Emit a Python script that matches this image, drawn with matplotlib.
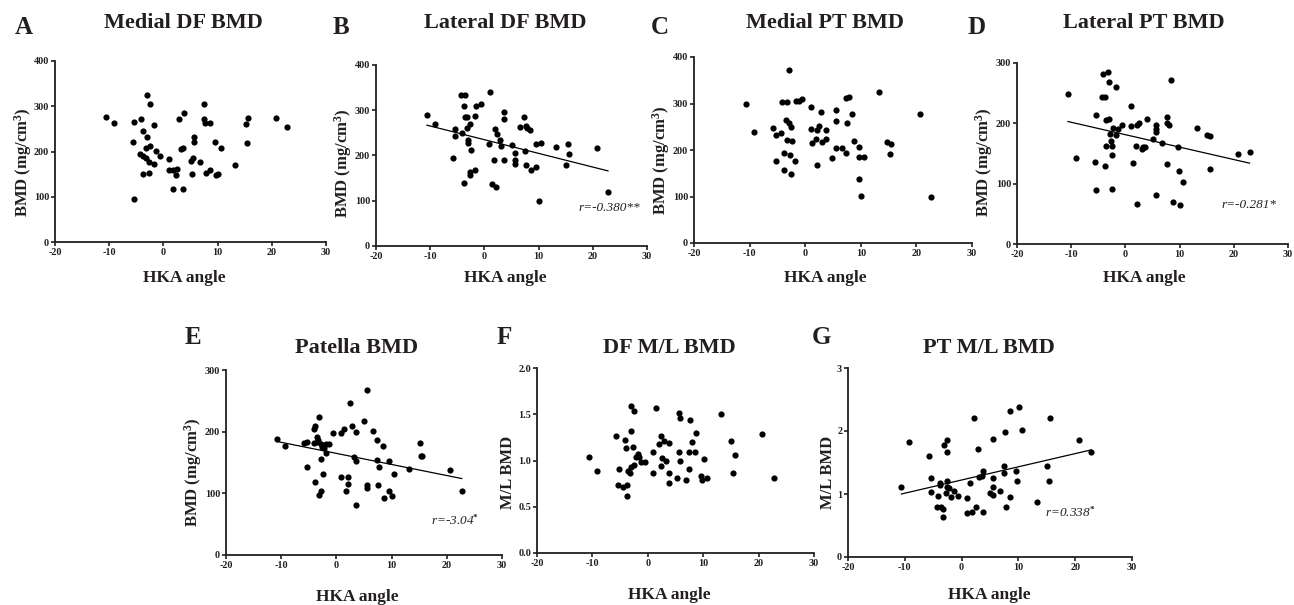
import matplotlib

matplotlib.use("Agg")
import matplotlib.pyplot as plt

plt.rcParams["font.family"] = ["Liberation Serif", "DejaVu Serif"]
plt.rcParams["mathtext.fontset"] = "custom"
plt.rcParams["mathtext.rm"] = "Liberation Serif:bold"
plt.rcParams["mathtext.bf"] = "Liberation Serif:bold"
plt.rcParams["mathtext.it"] = "Liberation Serif:italic"
plt.rcParams["axes.unicode_minus"] = False

W, H = 1294, 605
INK = "#231f20"

# --- data (HKA angle vs. BMD) ---
hka_a = [-10.6, -9.2, -3.0, -2.5, -5.4, -4.1, -1.7, -5.7, -3.7, -3.1, -3.3, -2.4, -1.4, -0.6,
         -4.3, -3.7, -3.3, -2.6, -1.8, -2.6, -3.8, -5.4, 1.0, 1.0, 1.7, 2.3, 2.5, 1.8, 3.6, 2.9,
         3.8, 3.3, 3.7, 5.2, 5.4, 5.6, 5.7, 5.1, 6.8, 7.4, 7.4, 7.7, 8.6, 7.9, 8.6, 9.5, 10.6,
         9.7, 10.1, 13.2, 15.2, 15.6, 15.4, 20.7, 22.8]
bmd_a = [277, 262, 325, 306, 266, 272, 258, 220, 246, 232, 208, 213, 201, 191,
         194, 190, 185, 177, 173, 153, 150, 94, 184, 160, 159, 148, 162, 117, 117, 272,
         286, 205, 207, 151, 186, 221, 232, 179, 177, 306, 271, 262, 262, 153, 159, 220, 208,
         148, 151, 170, 261, 273, 218, 275, 255]

hka_b = [-10.6, -9.2, -4.4, -3.6, -3.8, -3.6, -3.2, -1.5, -0.6, 1.0, -1.8, -5.4, -5.4, -4.1,
         -3.2, -2.7, -3.0, -3.1, -2.4, -5.8, -3.8, -2.7, -2.6, -1.8, 0.9, 2.0, 2.3, 2.8, 3.1,
         3.6, 3.6, 3.6, 1.7, 1.4, 2.2, 5.0, 5.6, 5.6, 5.6, 6.6, 7.3, 7.6, 7.9, 8.4, 7.4, 7.6,
         8.6, 9.6, 9.6, 10.5, 10.0, 13.2, 15.4, 15.6, 15.1, 20.7, 22.8]
bmd_b = [289, 270, 334, 334, 309, 286, 284, 309, 314, 341, 287, 258, 243, 250,
         260, 270, 234, 228, 212, 195, 140, 163, 157, 169, 225, 259, 247, 234, 220,
         297, 281, 189, 189, 138, 131, 223, 206, 190, 181, 262, 286, 265, 260, 256, 211, 180,
         169, 174, 225, 227, 99, 218, 225, 203, 180, 216, 120]
fit_b_x = [-10.6, 22.8]
fit_b_y = [267, 166]

hka_c = [-10.6, -9.2, -5.8, -5.3, -5.3, -4.4, -4.1, -3.8, -3.8, -3.4, -3.2, -3.2, -3.0, -2.9,
         -2.8, -2.6, -2.6, -2.4, -1.9, -1.7, -1.1, -0.6, 1.0, 1.0, 1.3, 1.9, 2.2, 2.5, 2.2,
         2.8, 3.1, 3.7, 3.7, 4.9, 5.5, 5.6, 5.6, 6.7, 7.3, 7.6, 7.3, 7.9, 8.4, 8.7, 9.6, 9.7,
         10.6, 9.7, 10.0, 13.2, 14.8, 15.4, 15.3, 20.7, 22.7]
bmd_c = [300, 239, 248, 233, 177, 237, 304, 193, 158, 265, 304, 222, 371, 258,
         189, 148, 250, 220, 176, 306, 305, 309, 292, 245, 216, 223, 242, 252, 168,
         282, 217, 223, 243, 182, 285, 263, 205, 205, 193, 258, 312, 313, 278, 220, 206, 184,
         184, 137, 101, 324, 218, 213, 192, 278, 98]

hka_d = [-10.6, -9.1, -5.4, -5.7, -5.4, -4.4, -3.7, -4.1, -3.2, -3.1, -1.8, -3.7, -3.5, -3.5,
         -3.0, -2.9, -2.6, -2.4, -2.5, -2.4, -2.3, -1.7, -1.3, -0.6, 1.0, 1.1, 1.4, 2.0, 2.2,
         2.6, 2.2, 3.0, 3.3, 3.7, 3.9, 5.1, 5.7, 5.7, 5.7, 5.7, 6.8, 7.6, 7.6, 8.1, 7.7, 8.5,
         8.8, 9.7, 9.8, 10.1, 10.6, 13.3, 15.1, 15.6, 15.7, 20.8, 22.9]
bmd_d = [249, 143, 90, 136, 213, 243, 243, 281, 285, 268, 261, 130, 162, 205,
         208, 182, 170, 163, 147, 91, 192, 181, 190, 197, 228, 195, 135, 162, 198,
         201, 67, 158, 161, 161, 207, 174, 197, 190, 186, 82, 167, 210, 200, 197, 132, 271,
         70, 160, 121, 64, 102, 193, 180, 179, 124, 149, 152]
fit_d_x = [-10.6, 22.9]
fit_d_y = [203, 134]

hka_e = [-10.7, -9.3, -5.9, -5.4, -5.4, -3.9, -4.1, -3.8, -3.2, -3.6, -3.6, -3.3, -4.1, -2.7,
         -2.6, -2.3, -1.9, -1.8, -1.3, -2.8, -2.5, -2.7, -3.1, -0.7, 0.9, 1.3, 0.9, 2.1, 2.1,
         1.8, 2.4, 2.8, 3.1, 3.6, 3.6, 3.6, 5.0, 5.5, 5.5, 5.5, 6.6, 7.3, 7.3, 7.7, 7.6, 8.4,
         8.6, 9.5, 9.6, 10.0, 10.5, 13.1, 15.1, 15.4, 15.5, 20.6, 22.7]
bmd_e = [188, 177, 181, 183, 143, 118, 205, 209, 224, 192, 184, 186, 182, 180,
         175, 173, 165, 180, 180, 155, 131, 103, 98, 198, 198, 204, 127, 127, 115,
         104, 246, 209, 159, 152, 200, 81, 218, 268, 114, 108, 201, 186, 154, 143, 113, 176,
         92, 152, 103, 95, 132, 139, 181, 161, 161, 138, 104]
fit_e_x = [-10.7, 22.7]
fit_e_y = [184, 124]

hka_f = [-10.6, -9.1, -5.8, -5.2, -5.4, -4.5, -3.7, -3.7, -4.2, -3.9, -3.0, -2.5, -3.1, -2.6,
         -3.6, -3.2, -3.1, -2.5, -2.2, -1.7, -1.6, -1.3, -0.5, 1.4, 1.0, 1.0, 2.0, 2.3, 2.3,
         2.6, 2.9, 3.2, 3.8, 3.8, 3.8, 5.2, 5.7, 5.8, 5.7, 5.8, 6.9, 7.5, 7.5, 7.7, 7.9, 8.5,
         8.7, 9.6, 9.8, 10.2, 10.6, 13.2, 15.1, 15.4, 15.7, 20.7, 22.8]
ratio_f = [1.04, 0.89, 1.27, 0.91, 0.73, 0.71, 0.74, 0.62, 1.22, 1.14, 1.59, 1.53, 1.32, 1.15,
           0.89, 0.86, 0.93, 0.95, 1.04, 1.07, 1.04, 0.98, 0.98, 1.57, 1.09, 0.86, 1.18, 1.27,
           0.94, 1.03, 1.21, 0.99, 1.19, 0.87, 0.76, 0.81, 1.51, 1.46, 1.09, 1.00, 0.79, 1.09,
           0.91, 1.44, 1.20, 1.09, 1.30, 0.83, 0.79, 1.02, 0.81, 1.50, 1.21, 0.86, 1.06, 1.29,
           0.81]

hka_g = [-10.6, -9.2, -5.8, -5.3, -5.3, -4.1, -4.4, -3.8, -3.8, -3.6, -3.2, -3.2, -3.1, -2.6,
         -2.5, -2.6, -2.8, -2.6, -2.2, -1.8, -1.4, -0.6, 1.0, 1.4, 1.0, 1.9, 2.5, 2.2, 2.8,
         3.1, 3.6, 3.7, 3.7, 5.0, 5.5, 5.6, 5.6, 5.6, 6.8, 7.4, 7.5, 7.6, 7.8, 8.5, 8.6, 9.5,
         9.7, 10.1, 10.6, 13.2, 15.1, 15.3, 15.6, 20.6, 22.8]
ratio_g = [1.11, 1.83, 1.60, 1.25, 1.03, 0.97, 0.80, 1.18, 1.14, 0.79, 0.76, 0.64, 1.78, 1.67,
           1.86, 1.21, 1.02, 1.11, 1.09, 0.96, 1.05, 0.97, 0.93, 1.17, 0.70, 0.72, 0.79, 2.20,
           1.71, 1.27, 1.29, 1.37, 0.72, 1.02, 0.99, 1.11, 1.25, 1.87, 1.05, 1.34, 1.45, 1.98,
           0.79, 0.96, 2.31, 1.37, 1.21, 2.38, 2.02, 0.88, 1.44, 1.21, 2.20, 1.85, 1.67]
fit_g_x = [-10.6, 22.8]
fit_g_y = [1.00, 1.70]

bmd_label = "BMD (mg/cm$^\\mathbf{3}$)"
ratio_label = "M/L BMD"

# axes box in px, then anchors (px) for title, panel letter, x label and y label
panels = [
    dict(letter="A", title="Medial DF BMD", x=hka_a, y=bmd_a, ylim=400, yt=[0, 100, 200, 300, 400],
         ylabel=bmd_label, fit=None, note=None, box=(55, 61, 326, 242),
         title_xy=(183, 23), letter_xy=(24, 27), xlab_xy=(184, 278), ylab_xy=(23, 162)),
    dict(letter="B", title="Lateral DF BMD", x=hka_b, y=bmd_b, ylim=400, yt=[0, 100, 200, 300, 400],
         ylabel=bmd_label, fit=(fit_b_x, fit_b_y), note=("r=-0.380**", "", 28.8, 83),
         box=(376, 65, 647, 246), title_xy=(505, 23), letter_xy=(341, 27), xlab_xy=(505, 278),
         ylab_xy=(343, 163)),
    dict(letter="C", title="Medial PT BMD", x=hka_c, y=bmd_c, ylim=400, yt=[0, 100, 200, 300, 400],
         ylabel=bmd_label, fit=None, note=None, box=(694, 57, 972, 243),
         title_xy=(825, 23), letter_xy=(660, 27), xlab_xy=(825, 278), ylab_xy=(661, 160)),
    dict(letter="D", title="Lateral PT BMD", x=hka_d, y=bmd_d, ylim=300, yt=[0, 100, 200, 300],
         ylabel=bmd_label, fit=(fit_d_x, fit_d_y), note=("r=-0.281*", "", 27.9, 65),
         box=(1017, 63, 1288, 244), title_xy=(1144, 23), letter_xy=(977, 27), xlab_xy=(1144, 278),
         ylab_xy=(984, 162)),
    dict(letter="E", title="Patella BMD", x=hka_e, y=bmd_e, ylim=300, yt=[0, 100, 200, 300],
         ylabel=bmd_label, fit=(fit_e_x, fit_e_y), note=("r=-3.04", "*", 25.9, 57),
         box=(226, 370, 502, 555), title_xy=(357, 348), letter_xy=(193, 337), xlab_xy=(357, 597),
         ylab_xy=(193, 472)),
    dict(letter="F", title="DF M/L BMD", x=hka_f, y=ratio_f, ylim=2.0, yt=[0.0, 0.5, 1.0, 1.5, 2.0],
         ylabel=ratio_label, fit=None, note=None, box=(537, 368, 814, 553),
         title_xy=(669, 348), letter_xy=(504, 338), xlab_xy=(669, 595), ylab_xy=(508, 472)),
    dict(letter="G", title="PT M/L BMD", x=hka_g, y=ratio_g, ylim=3, yt=[0, 1, 2, 3],
         ylabel=ratio_label, fit=(fit_g_x, fit_g_y), note=("r=0.338", "*", 23.5, 0.71),
         box=(848, 368, 1132, 557), title_xy=(989, 348), letter_xy=(821, 338), xlab_xy=(989, 595),
         ylab_xy=(828, 472)),
]


def fx(px):
    return px / W


def fy(py):
    return 1 - py / H


fig = plt.figure(figsize=(W / 100, H / 100), dpi=100)

for p in panels:
    x0, y0, x1, y1 = p["box"]
    ax = fig.add_axes([fx(x0), fy(y1), (x1 - x0) / W, (y1 - y0) / H])
    ax.scatter(p["x"], p["y"], s=20, color="black", linewidths=0, zorder=3)
    if p["fit"]:
        ax.plot(p["fit"][0], p["fit"][1], color="black", linewidth=0.9, zorder=2)
    ax.set_xlim(-20, 30)
    ax.set_ylim(0, p["ylim"])
    ax.set_xticks([-20, -10, 0, 10, 20, 30])
    ax.set_yticks(p["yt"])
    if isinstance(p["ylim"], float):
        ax.set_yticklabels([f"{v:.1f}" for v in p["yt"]])
    for side in ("top", "right"):
        ax.spines[side].set_visible(False)
    for side in ("left", "bottom"):
        ax.spines[side].set_linewidth(1.3)
        ax.spines[side].set_color(INK)
    ax.tick_params(direction="out", length=3, width=1.2, color=INK, pad=1.2,
                   labelsize=7.3, labelcolor=INK)
    for lab in ax.get_xticklabels() + ax.get_yticklabels():
        lab.set_fontweight("bold")
    ax.patch.set_alpha(0)

    if p["note"]:
        txt, sup, nx, ny = p["note"]
        ax.text(nx, ny, txt + (f"$^{{{sup}}}$" if sup else ""), ha="right", va="center",
                fontsize=9.5, style="italic", color=INK)

    fig.text(fx(p["title_xy"][0]), fy(p["title_xy"][1]), p["title"], ha="center", va="center",
             fontsize=16, fontweight="bold", color=INK)
    fig.text(fx(p["letter_xy"][0]), fy(p["letter_xy"][1]), p["letter"], ha="center", va="center",
             fontsize=18, fontweight="bold", color=INK)
    fig.text(fx(p["xlab_xy"][0]), fy(p["xlab_xy"][1]), "HKA angle", ha="center", va="center",
             fontsize=12.5, fontweight="bold", color=INK)
    fig.text(fx(p["ylab_xy"][0]), fy(p["ylab_xy"][1]), p["ylabel"], ha="center", va="center",
             rotation=90, fontsize=12, fontweight="bold", color=INK)

fig.savefig("out.png", dpi=100)
plt.close(fig)
